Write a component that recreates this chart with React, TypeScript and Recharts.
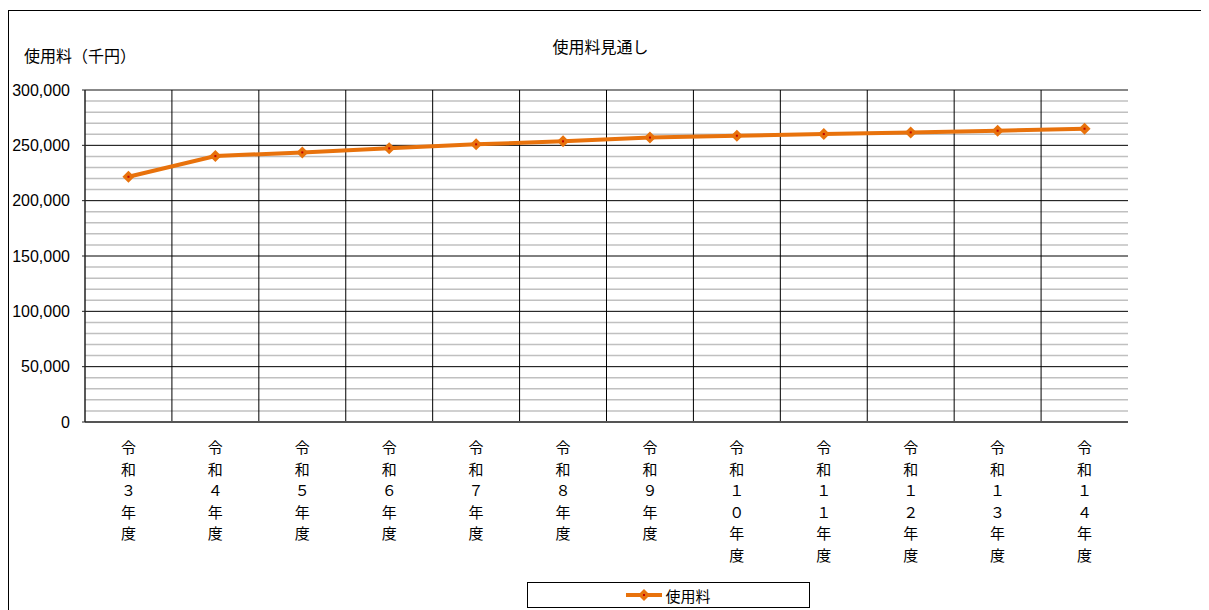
import { LineChart, Line, XAxis, YAxis, ReferenceLine } from "recharts";

// 使用料見通し: annual fee forecast (千円), 令和3〜14年度
const years = [
  "令和３年度", "令和４年度", "令和５年度", "令和６年度", "令和７年度", "令和８年度",
  "令和９年度", "令和１０年度", "令和１１年度", "令和１２年度", "令和１３年度", "令和１４年度",
];
const fees = [221600, 240300, 243600, 247300, 250900, 253600, 257000, 258700, 260200, 261700, 263200, 265000];
const majorTicks = [0, 50000, 100000, 150000, 200000, 250000, 300000];
const minorTicks = [
  10000, 20000, 30000, 40000, 60000, 70000, 80000, 90000, 110000, 120000, 130000, 140000,
  160000, 170000, 180000, 190000, 210000, 220000, 230000, 240000, 260000, 270000, 280000, 290000,
];

const FONT = '"Liberation Sans", "Noto Sans CJK JP", sans-serif';
const ORANGE = "#E8720C";

const data = years.map((y, i) => ({ year: y, fee: fees[i] }));

// stacks each character of the year label vertically
function YearTick({ x, y, payload }: any) {
  const chars = Array.from(String(payload.value));
  return (
    <text x={x} y={y} textAnchor="middle" fontSize={15} fill="#000" fontFamily={FONT}>
      {chars.map((c, i) => (
        <tspan key={i} x={x} dy={i === 0 ? 23 : 21.5}>{c}</tspan>
      ))}
    </text>
  );
}

function Diamond({ cx, cy }: any) {
  if (cx == null || cy == null) return null;
  return (
    <g>
      <polygon points={`${cx},${cy - 6} ${cx + 6},${cy} ${cx},${cy + 6} ${cx - 6},${cy}`} fill={ORANGE} />
      <rect x={cx - 1} y={cy - 1} width={2} height={2} fill="#C00000" />
    </g>
  );
}

export default function App() {
  return (
    <div
      style={{
        position: "relative", top: 2, width: 1215, height: 620,
        border: "1px solid #000", boxSizing: "border-box", fontFamily: FONT, background: "#fff",
      }}
    >
      <div style={{ position: "absolute", left: 15, top: 32, fontSize: 16, color: "#000" }}>使用料（千円）</div>
      <div style={{ position: "absolute", left: 0, width: 1183, top: 23, textAlign: "center", fontSize: 16, color: "#000" }}>
        使用料見通し
      </div>

      <LineChart width={1200} height={598} data={data} margin={{ top: 79, right: 81, bottom: 0, left: 0 }}>
        <XAxis
          dataKey="year"
          scale="band"
          interval={0}
          tick={<YearTick />}
          tickLine={false}
          height={187}
          axisLine={{ stroke: "#555", strokeWidth: 2 }}
        />
        <YAxis
          domain={[0, 300000]}
          ticks={majorTicks}
          width={76}
          tickSize={3}
          tickMargin={12}
          tickFormatter={(v: number) => v.toLocaleString("en-US")}
          tick={{ fontSize: 16, fill: "#000", fontFamily: FONT }}
          axisLine={{ stroke: "#222", strokeWidth: 1.5 }}
          tickLine={{ stroke: "#222" }}
        />
        {minorTicks.map((v) => (
          <ReferenceLine key={`m${v}`} y={v} stroke="#C0C0C0" strokeWidth={1.5} />
        ))}
        {majorTicks.slice(1, -1).map((v) => (
          <ReferenceLine key={`M${v}`} y={v} stroke="#000" strokeWidth={1} />
        ))}
        <ReferenceLine y={300000} stroke="#888" strokeWidth={2} />
        {/* separators on the band edges between years */}
        {years.slice(1).map((y) => (
          <ReferenceLine key={`v${y}`} x={y} position="start" stroke="#000" strokeWidth={1} />
        ))}
        <ReferenceLine x={years[years.length - 1]} position="end" stroke="#888" strokeWidth={2} />
        <Line
          dataKey="fee"
          stroke={ORANGE}
          strokeWidth={4}
          dot={<Diamond />}
          activeDot={false}
          isAnimationActive={false}
        />
      </LineChart>

      <div
        style={{
          position: "absolute", left: 518, top: 571, width: 283, height: 26,
          border: "1px solid #000", boxSizing: "border-box",
          display: "flex", alignItems: "center", justifyContent: "center", fontSize: 15,
        }}
      >
        <svg width={36} height={14} style={{ marginRight: 3 }}>
          <line x1={0} y1={7} x2={36} y2={7} stroke={ORANGE} strokeWidth={4} />
          <polygon points="18,1 24,7 18,13 12,7" fill={ORANGE} />
          <rect x={17} y={6} width={2} height={2} fill="#C00000" />
        </svg>
        <span>使用料</span>
      </div>
    </div>
  );
}
